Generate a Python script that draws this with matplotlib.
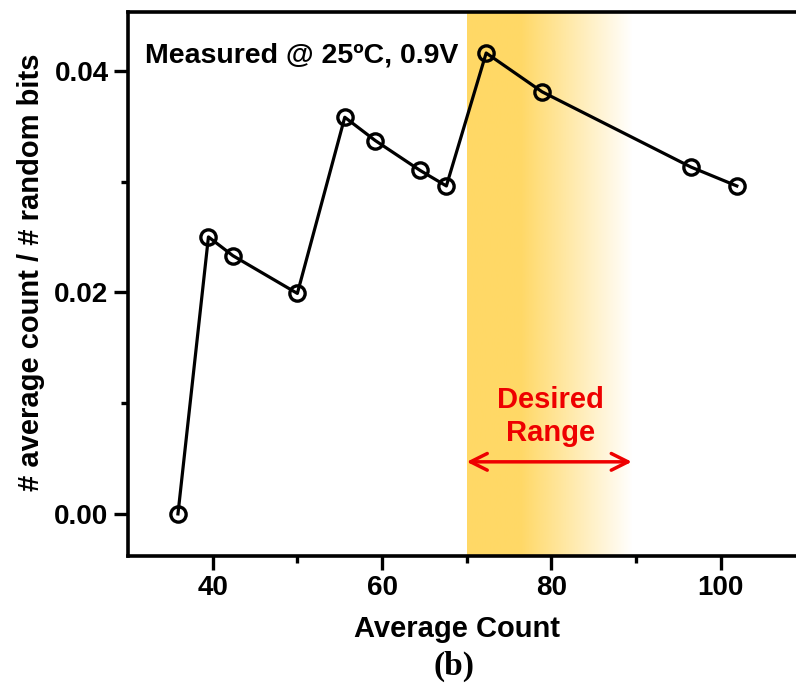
import numpy as np
import matplotlib
matplotlib.use('Agg')
import matplotlib.pyplot as plt
from matplotlib.ticker import MultipleLocator, FormatStrFormatter

# average count vs. fraction of random bits
avg_count = [35.9, 39.5, 42.4, 50.0, 55.6, 59.2, 64.5, 67.6, 72.3, 78.9, 96.5, 101.9]
ratio = [0.0000, 0.0250, 0.0233, 0.0199, 0.0358, 0.0337, 0.0310, 0.0296,
         0.0416, 0.0381, 0.0313, 0.0296]
desired_range = (70, 89.5)

plt.rcParams['font.family'] = ['Liberation Sans', 'DejaVu Sans']
plt.rcParams['font.weight'] = 'bold'

fig = plt.figure(figsize=(7.96, 6.86), dpi=100)
ax = fig.add_axes([0.1608, 0.1895, 0.851, 0.793])
ax.set_xlim(30, 110)
ax.set_ylim(-0.0038, 0.0453)

# yellow band fading out to the right
ramp_x = np.linspace(desired_range[0], desired_range[1], 400)
alpha = np.interp(ramp_x, [desired_range[0], 76.3, desired_range[1]], [1.0, 1.0, 0.0])
grad = np.zeros((1, len(ramp_x), 4))
grad[..., 0] = 1.0
grad[..., 1] = 0.85
grad[..., 2] = 0.40
grad[..., 3] = alpha
ylo, yhi = ax.get_ylim()
ax.imshow(grad, extent=[desired_range[0], desired_range[1], ylo, yhi],
          aspect='auto', interpolation='bilinear', zorder=0)

ax.plot(avg_count, ratio, color='black', lw=2.3, marker='o', ms=11,
        mfc='none', mec='black', mew=2.4, zorder=3)

ax.annotate('', xy=(desired_range[0], 0.0047), xytext=(desired_range[1], 0.0047),
            arrowprops=dict(arrowstyle='<->', color='#ee0000', lw=2.5,
                            mutation_scale=30, shrinkA=0, shrinkB=0))
ax.text(79.9, 0.0088, 'Desired\nRange', color='#ee0000',
        fontsize=21, fontweight='bold', ha='center', va='center', linespacing=1.25)
ax.text(32.0, 0.0414, 'Measured @ 25ºC, 0.9V', fontsize=20.5, fontweight='bold',
        ha='left', va='center')

ax.set_xticks([40, 60, 80, 100])
ax.set_xticks([50, 70, 90], minor=True)
ax.yaxis.set_major_locator(MultipleLocator(0.02))
ax.yaxis.set_minor_locator(MultipleLocator(0.01))
ax.yaxis.set_major_formatter(FormatStrFormatter('%.2f'))
ax.tick_params(which='major', length=10, width=2.4, labelsize=20, pad=4)
ax.tick_params(which='minor', length=5, width=2.4)
for side in ['left', 'bottom', 'top', 'right']:
    ax.spines[side].set_linewidth(2.6)

ax.set_xlabel('Average Count', fontsize=21, fontweight='bold', labelpad=10)
ax.set_ylabel('# average count / # random bits', fontsize=21, fontweight='bold', labelpad=7)
ax.xaxis.label.set_x(0.486)
ax.yaxis.label.set_y(0.522)
fig.text(0.570, 0.028, '(b)', fontsize=24, fontweight='bold', family='Liberation Serif',
         ha='center', va='center')

fig.savefig('out.png', dpi=100)
